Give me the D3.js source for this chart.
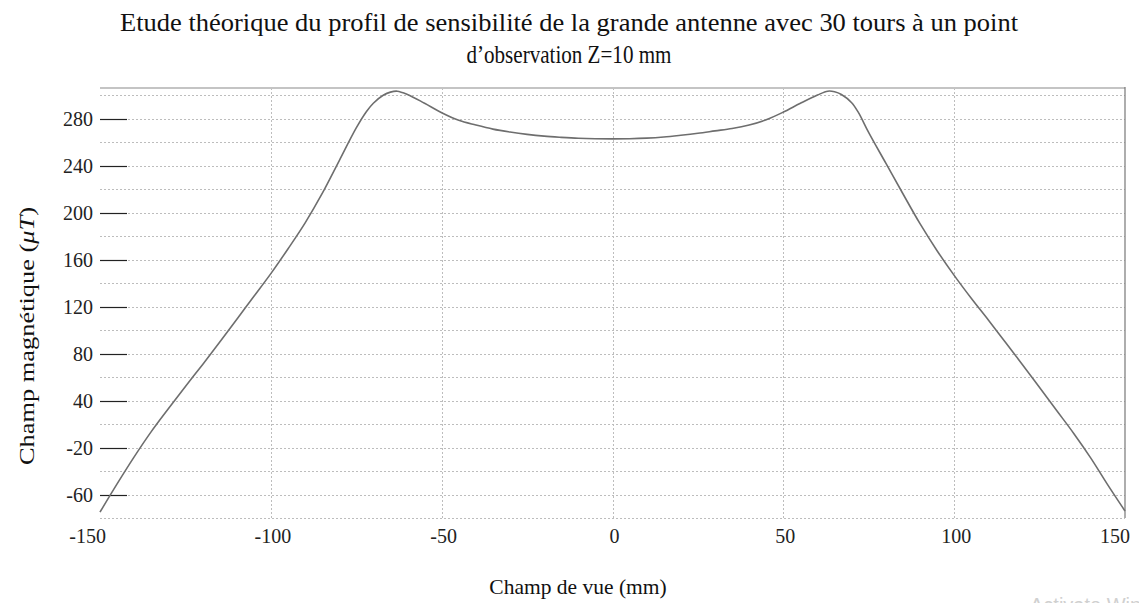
<!DOCTYPE html>
<html>
<head>
<meta charset="utf-8">
<script src="https://cdn.jsdelivr.net/npm/d3@7"></script>
<style>
  html, body { margin: 0; padding: 0; background: #fff; }
  svg { display: block; font-family: "Liberation Serif", "Times New Roman", serif; }
</style>
</head>
<body>
<svg id="chart" width="1139" height="603"></svg>
<script>
// ---- data ----
const titleLines = ["Etude théorique du profil de sensibilité de la grande antenne avec 30 tours à un point",
                    "d’observation Z=10 mm"];
const xTitle = "Champ de vue (mm)";
const yTitlePlain = "Champ magnétique (";
const yTitleItalic = "μT";
const yTitleEnd = ")";

const xValues = [-150,-145,-140,-135,-130,-125,-120,-115,-110,-105,-100,-95,-90,-85,-80,-75,-72,-70,-67,-65,-63,-60,-55,-50,-45,-40,-35,-30,-25,-20,-15,-10,-5,0,5,10,15,20,25,30,35,40,45,50,55,60,63,65,67,70,72,75,80,85,90,95,100,105,110,115,120,125,130,135,140,145,150];
const fieldValues = [-55,-31,-8,13.5,33,52,70.5,89.5,109,128.5,148,169,191,216,244,272,286,293,300,302.5,303.3,300.5,293,285,278.5,274.5,271,268.5,266.5,265,264,263.2,262.8,262.7,262.8,263.3,264.3,265.8,267.5,269.5,271.5,274.5,279,285.5,293,300,303.3,302.8,300.5,293.5,285,268,242,216,190.5,167.5,146.5,127,108.5,89.5,70.5,51,31.5,12,-9,-32,-54];

const xTickValues = [-150,-100,-50,0,50,100,150];
const xTickLabels = ["-150","-100","-50","0","50","100","150"];
const yTickValues = [280,240,200,160,120,80,40,0,-40];
const yTickLabels = ["280","240","200","160","120","80","40","-20","-60"];
const xGridValues = [-100,-50,0,50,100];
const yGridValues = [-60,-40,-20,0,20,40,60,80,100,120,140,160,180,200,220,240,260,280,300];

// ---- layout ----
const svg = d3.select("#chart");
const pLeft = 100, pRight = 1125, pTop = 88, pBottom = 518;

const x = d3.scaleLinear().domain([-150, 150]).range([pLeft, pRight]);
const y = d3.scaleLinear().domain([-60, 306]).range([pBottom, pTop]);

// title
svg.append("text").attr("x", 569).attr("y", 31).attr("text-anchor", "middle")
  .attr("font-size", 26).attr("fill", "#111")
  .attr("textLength", 898).attr("lengthAdjust", "spacingAndGlyphs")
  .text(titleLines[0]);
svg.append("text").attr("x", 569).attr("y", 63).attr("text-anchor", "middle")
  .attr("font-size", 26).attr("fill", "#111")
  .attr("textLength", 205).attr("lengthAdjust", "spacingAndGlyphs")
  .text(titleLines[1]);

// grid
const grid = svg.append("g");
grid.selectAll("line.hg").data(yGridValues).join("line")
  .attr("x1", pLeft).attr("x2", pRight)
  .attr("y1", d => Math.round(y(d)) + 0.5).attr("y2", d => Math.round(y(d)) + 0.5)
  .attr("stroke", "#bdbdbd").attr("stroke-width", 1).attr("stroke-dasharray", "2,2");
grid.selectAll("line.vg").data(xGridValues).join("line")
  .attr("x1", d => Math.round(x(d)) + 0.5).attr("x2", d => Math.round(x(d)) + 0.5)
  .attr("y1", pTop).attr("y2", pBottom)
  .attr("stroke", "#bdbdbd").attr("stroke-width", 1).attr("stroke-dasharray", "2,2");

// frame (top and right)
svg.append("line").attr("x1", pLeft).attr("x2", pRight).attr("y1", pTop).attr("y2", pTop)
  .attr("stroke", "#c4c4c4").attr("stroke-width", 2);
svg.append("line").attr("x1", pRight).attr("x2", pRight).attr("y1", pTop - 1).attr("y2", pBottom)
  .attr("stroke", "#777").attr("stroke-width", 1.2);

// y ticks and labels
const yAxis = svg.append("g");
yAxis.selectAll("line").data(yTickValues).join("line")
  .attr("x1", pLeft).attr("x2", pLeft + 27)
  .attr("y1", d => Math.round(y(d)) + 0.5).attr("y2", d => Math.round(y(d)) + 0.5)
  .attr("stroke", "#222").attr("stroke-width", 1.2);
yAxis.selectAll("text").data(yTickValues).join("text")
  .attr("x", 93).attr("y", d => y(d)).attr("dy", "0.35em")
  .attr("text-anchor", "end").attr("font-size", 20).attr("fill", "#222")
  .text((d, i) => yTickLabels[i]);

// x labels
svg.append("g").selectAll("text").data(xTickValues).join("text")
  .attr("x", (d, i) => i === 0 ? x(d) + 6 : (i === xTickValues.length - 1 ? x(d) + 5 : x(d) + 2))
  .attr("y", 543)
  .attr("text-anchor", (d, i) => (i === 0 || i === xTickValues.length - 1) ? "end" : "middle")
  .attr("font-size", 20).attr("fill", "#222")
  .text((d, i) => xTickLabels[i]);

// axis titles
svg.append("text").attr("x", 578).attr("y", 594).attr("text-anchor", "middle")
  .attr("font-size", 21.5).attr("fill", "#111").text(xTitle);
const yt = svg.append("text").attr("transform", "translate(34,336) rotate(-90)")
  .attr("text-anchor", "middle").attr("font-size", 22).attr("fill", "#111")
  .attr("textLength", 258).attr("lengthAdjust", "spacingAndGlyphs");
yt.append("tspan").text(yTitlePlain);
yt.append("tspan").attr("font-style", "italic").text(yTitleItalic);
yt.append("tspan").text(yTitleEnd);

// curve
const data = xValues.map((v, i) => ({x: v, y: fieldValues[i]}));
svg.append("path").datum(data)
  .attr("fill", "none").attr("stroke", "#6e6e6e").attr("stroke-width", 1.6)
  .attr("d", d3.line().x(d => x(d.x)).y(d => y(d.y)).curve(d3.curveCatmullRom.alpha(0.5)));

// watermark remnant at bottom right
svg.append("text").attr("x", 1030).attr("y", 612).attr("font-family", "Liberation Sans, Arial, sans-serif")
  .attr("font-size", 20).attr("fill", "#d0d0d0").text("Activate Windows");
</script>
</body>
</html>
